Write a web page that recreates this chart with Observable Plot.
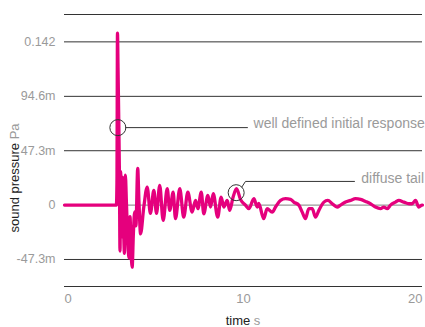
<!DOCTYPE html>
<html><head><meta charset="utf-8">
<script src="https://cdn.jsdelivr.net/npm/d3@7"></script>
<script src="https://cdn.jsdelivr.net/npm/@observablehq/plot@0.6"></script>
<style>
body{margin:0;background:#fff;}
#chart svg{display:block;font-family:"Liberation Sans",Arial,Helvetica,sans-serif;}
</style></head><body><div id="chart"></div>
<script>
// signal: time (s) and sound pressure (Pa)
const timeS = [0, 1.0, 2.0, 2.90, 2.93, 2.96, 2.99, 3.03, 3.07, 3.10, 3.14, 3.17, 3.24, 3.30, 3.35, 3.40, 3.46, 3.53, 3.60, 3.66, 3.72, 3.78, 3.85, 3.92, 3.99, 4.09, 4.16, 4.25, 4.43, 4.62, 4.80, 4.99, 5.14, 5.32, 5.51, 5.74, 5.88, 6.07, 6.20, 6.44, 6.66, 6.89, 7.13, 7.32, 7.45, 7.64, 7.78, 8.01, 8.16, 8.31, 8.56, 8.75, 8.90, 9.09, 9.23, 9.42, 9.61, 9.83, 10.11, 10.30, 10.58, 10.77, 10.85, 11.13, 11.32, 11.60, 11.79, 12.07, 12.35, 12.63, 12.81, 13.09, 13.28, 13.46, 13.65, 13.84, 14.02, 14.21, 14.49, 14.71, 14.96, 15.23, 15.42, 15.70, 15.98, 16.26, 16.54, 16.82, 17.09, 17.37, 17.65, 17.84, 18.03, 18.21, 18.49, 18.68, 18.96, 19.25, 19.42, 19.61, 19.79, 19.98, 20.0];
const pressurePa = [0, 0, 0, 0, 0.020, 0.1496, 0.120, 0.075, 0.025, -0.040, 0.029, -0.028, 0.024, -0.020, -0.042, 0.026, 0.002, -0.029, -0.046, -0.010, -0.040, -0.054, -0.024, -0.006, -0.018, 0.032, 0.003, -0.025, -0.0017, 0.0157, -0.0072, 0.0128, -0.0072, 0.0172, -0.0133, 0.0143, -0.0046, 0.0113, -0.0118, 0.0143, -0.0105, 0.0113, -0.0061, 0.0041, -0.0031, 0.0113, -0.0075, 0.0084, -0.0017, 0.0099, -0.0105, 0.0070, -0.0017, 0.0041, -0.0046, 0.0070, 0.0143, 0.0050, 0.0000, -0.0031, 0.0056, -0.0017, 0.0015, -0.0118, -0.0031, -0.0061, -0.0017, 0.0041, 0.0056, 0.0050, 0.0026, 0.0000, -0.0061, -0.0118, -0.0031, -0.0031, -0.0105, -0.0046, 0.0026, 0.0041, 0.0012, -0.0017, 0.0000, 0.0026, 0.0041, 0.0056, 0.0050, 0.0032, 0.0012, -0.0017, -0.0031, -0.0017, -0.0031, 0.0000, 0.0026, 0.0041, 0.0026, 0.0012, 0.0012, 0.0041, -0.0017, 0.0000, 0.0000];

const yTicks = [-0.0473, 0, 0.0473, 0.0946, 0.142];
const yTickLabels = ["-47.3m", "0", "47.3m", "94.6m", "0.142"];
const yDomain = [-0.0708, 0.1658];
const xTicks = [0, 10, 20];
const xTickLabels = ["0", "10", "20"];
const xDomain = [0, 20];

// annotations (data coordinates)
const annoTime = [2.98, 9.59];
const annoPressure = [0.0674, 0.0108];
const annoText = ["well defined initial response", "diffuse tail"];
const annoTextTime = [10.56, 16.58];
const annoTextPressure = [0.0711, 0.0235];
const leader1Time = [3.41, 10.22];
const leader1Pressure = [0.0674, 0.0674];
const leader2Time = [9.91, 10.11, 16.2];
const leader2Pressure = [0.0158, 0.0206, 0.0206];

const signal = timeS.map((t, i) => ({t, p: pressurePa[i]}));
const annos = annoTime.map((t, i) => ({t, p: annoPressure[i]}));
const annoLabels = annoText.map((s, i) => ({s, t: annoTextTime[i], p: annoTextPressure[i]}));
const leader1 = leader1Time.map((t, i) => ({t, p: leader1Pressure[i]}));
const leader2 = leader2Time.map((t, i) => ({t, p: leader2Pressure[i]}));
const gridDark = [yDomain[0], ...yTicks.filter(v => v !== 0), yDomain[1]];

const magenta = "#e5007d";
const grey = "#9a9a9a";

const plot = Plot.plot({
  width: 425,
  height: 327,
  marginLeft: 64,
  marginRight: 3,
  marginTop: 14,
  marginBottom: 41,
  x: {domain: xDomain, axis: null},
  y: {domain: yDomain, axis: null},
  style: {fontFamily: '"Liberation Sans", Arial, Helvetica, sans-serif', background: "#fff"},
  marks: [
    Plot.ruleY(gridDark, {stroke: "#333", strokeWidth: 1}),
    Plot.ruleY([0], {stroke: "#999", strokeWidth: 1.2}),
    Plot.text(yTicks, {y: d => d, text: (d, i) => yTickLabels[i], frameAnchor: "left", dx: -9, textAnchor: "end", fill: grey, fontSize: 12.5}),
    Plot.text([xTicks[0]], {x: d => d, text: () => xTickLabels[0], frameAnchor: "bottom", dy: 16, textAnchor: "start", fill: grey, fontSize: 13}),
    Plot.text([xTicks[1]], {x: d => d, text: () => xTickLabels[1], frameAnchor: "bottom", dy: 16, textAnchor: "middle", fill: grey, fontSize: 13}),
    Plot.text([xTicks[2]], {x: d => d, text: () => xTickLabels[2], frameAnchor: "bottom", dy: 16, textAnchor: "end", fill: grey, fontSize: 13}),
    Plot.line(signal, {x: "t", y: "p", stroke: magenta, strokeWidth: 3.3, curve: "monotone-x", strokeLinejoin: "round", strokeLinecap: "round"}),
    Plot.dot(annos, {x: "t", y: "p", r: 8, stroke: "#333", strokeWidth: 1, fill: "none"}),
    Plot.line(leader1, {x: "t", y: "p", stroke: "#333", strokeWidth: 1}),
    Plot.line(leader2, {x: "t", y: "p", stroke: "#333", strokeWidth: 1}),
    Plot.text(annoLabels, {x: "t", y: "p", text: "s", textAnchor: "start", fill: grey, fontSize: 14})
  ]
});

const svg = d3.select(plot);
// x axis label
const xl = svg.append("text")
  .attr("x", 243).attr("y", 320)
  .attr("text-anchor", "middle").attr("dy", "0.35em")
  .attr("font-size", 13);
xl.append("tspan").attr("fill", "#222").text("time");
xl.append("tspan").attr("fill", grey).text(" s");
// y axis label
const yl = svg.append("text")
  .attr("transform", "translate(14,178) rotate(-90)")
  .attr("text-anchor", "middle").attr("dy", "0.35em")
  .attr("font-size", 13);
yl.append("tspan").attr("fill", "#222").text("sound pressure");
yl.append("tspan").attr("fill", grey).text(" Pa");

document.getElementById("chart").appendChild(plot);
</script>
</body></html>
